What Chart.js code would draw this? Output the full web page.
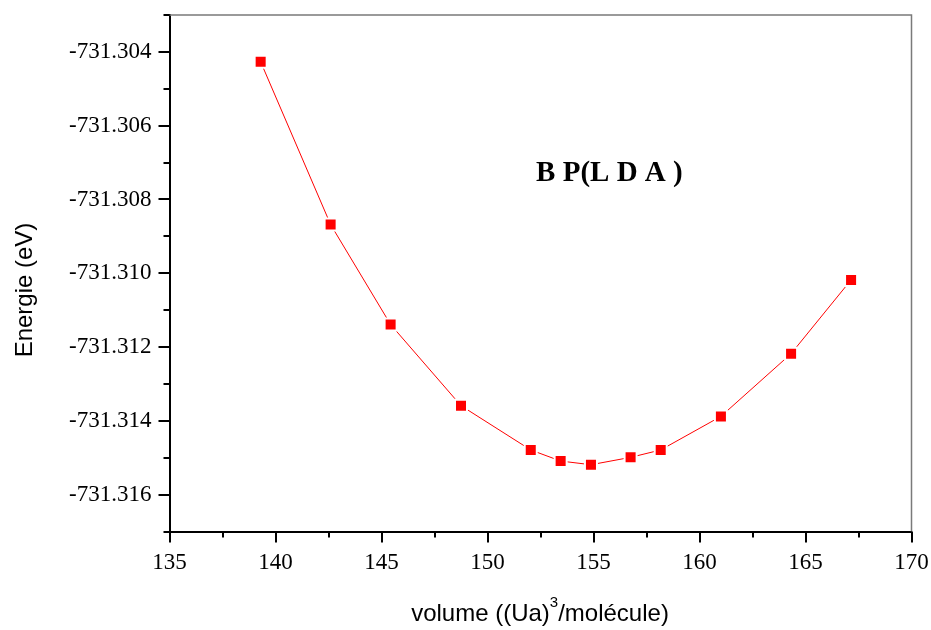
<!DOCTYPE html>
<html>
<head>
<meta charset="utf-8">
<script src="https://cdn.jsdelivr.net/npm/chart.js@4.4.1/dist/chart.umd.min.js"></script>
<style>
  html, body { margin: 0; padding: 0; background: #ffffff; }
  #wrap { width: 931px; height: 630px; }
</style>
</head>
<body>
<div id="wrap"><canvas id="c" width="931" height="630"></canvas></div>
<script>
// Total energy of BP (LDA) against cell volume
const volumes  = [139.30, 142.60, 145.43, 148.75, 152.04, 153.45, 154.88, 156.75, 158.17, 161.01, 164.32, 167.15];
const energies = [-731.30427, -731.30868, -731.31139, -731.31359, -731.31479, -731.31509,
                  -731.31519, -731.31499, -731.31479, -731.31388, -731.31218, -731.31018];

// Axis ticks (labelled values) and the unlabelled ones in between
const xTickLabels = ['135', '140', '145', '150', '155', '160', '165', '170'];
const xMinorTicks = [137.5, 142.5, 147.5, 152.5, 157.5, 162.5, 167.5];
const yTickLabels = ['-731.304', '-731.306', '-731.308', '-731.310', '-731.312', '-731.314', '-731.316'];
const yMinorTicks = [-731.303, -731.305, -731.307, -731.309, -731.311, -731.313, -731.315, -731.317];

const xMajor = xTickLabels.map(Number);
const yMajor = yTickLabels.map(Number);

const seriesLabel = 'B P(L D A )';
const xTitle = ['volume ((Ua)', '3', '/molécule)'];
const yTitle = 'Energie (eV)';

const points = volumes.map((v, i) => ({ x: v, y: energies[i] }));

const isMajor = (list, v) => list.some(m => Math.abs(m - v) < 1e-7);

function tickSet(major, minor) {
  return major.concat(minor).sort((a, b) => a - b).map(v => ({ value: v }));
}

// Frame, tick marks, axis titles and the in-plot label
const decorations = {
  id: 'decorations',
  afterDraw(chart) {
    const { ctx, chartArea: a, scales } = chart;
    const xs = scales.x, ys = scales.y;
    ctx.save();

    // thin grey frame on top and right
    ctx.strokeStyle = '#7a7a7a';
    ctx.lineWidth = 1.5;
    ctx.beginPath();
    ctx.moveTo(a.left, a.top);
    ctx.lineTo(a.right, a.top);
    ctx.lineTo(a.right, a.bottom);
    ctx.stroke();

    // outward tick marks
    ctx.strokeStyle = '#000000';
    ctx.lineWidth = 2;
    ctx.beginPath();
    xs.ticks.forEach(t => {
      const px = Math.round(xs.getPixelForValue(t.value));
      const len = isMajor(xMajor, t.value) ? 11 : 6;
      ctx.moveTo(px, a.bottom);
      ctx.lineTo(px, a.bottom + len);
    });
    ys.ticks.forEach(t => {
      const py = Math.round(ys.getPixelForValue(t.value));
      const len = isMajor(yMajor, t.value) ? 11 : 6;
      ctx.moveTo(a.left, py);
      ctx.lineTo(a.left - len, py);
    });
    ctx.stroke();

    // x axis title with superscript
    ctx.fillStyle = '#000000';
    ctx.textBaseline = 'alphabetic';
    const bigFont = '24px "Liberation Sans", Arial, sans-serif';
    const supFont = '15px "Liberation Sans", Arial, sans-serif';
    ctx.font = bigFont;
    const w0 = ctx.measureText(xTitle[0]).width;
    const w2 = ctx.measureText(xTitle[2]).width;
    ctx.font = supFont;
    const w1 = ctx.measureText(xTitle[1]).width;
    const total = w0 + w1 + w2;
    let tx = 540 - total / 2;
    const base = 621;
    ctx.font = bigFont;
    ctx.textAlign = 'left';
    ctx.fillText(xTitle[0], tx, base);
    tx += w0;
    ctx.font = supFont;
    ctx.fillText(xTitle[1], tx, base - 14);
    tx += w1;
    ctx.font = bigFont;
    ctx.fillText(xTitle[2], tx, base);

    // y axis title
    ctx.save();
    ctx.translate(25, 290);
    ctx.rotate(-Math.PI / 2);
    ctx.textAlign = 'center';
    ctx.textBaseline = 'middle';
    ctx.font = '24px "Liberation Sans", Arial, sans-serif';
    ctx.fillText(yTitle, 0, 0);
    ctx.restore();

    // series label inside the plot
    ctx.font = 'bold 29px "Liberation Serif", "Times New Roman", serif';
    ctx.textAlign = 'center';
    ctx.textBaseline = 'middle';
    ctx.fillText(seriesLabel, xs.getPixelForValue(155.75), ys.getPixelForValue(-731.3073));

    ctx.restore();
  }
};

new Chart(document.getElementById('c'), {
  type: 'scatter',
  data: {
    datasets: [{
      label: seriesLabel,
      data: points,
      showLine: true,
      borderColor: '#ff0000',
      borderWidth: 1,
      pointStyle: 'rect',
      pointRadius: 8.5,
      pointHoverRadius: 8.5,
      pointBackgroundColor: '#ff0000',
      pointBorderColor: '#ffffff',
      pointBorderWidth: 2,
      tension: 0
    }]
  },
  options: {
    responsive: false,
    animation: false,
    devicePixelRatio: 1,
    events: [],
    layout: { padding: { top: 15, right: 19.5, left: 0, bottom: 0 } },
    plugins: {
      legend: { display: false },
      tooltip: { enabled: false },
      title: { display: false }
    },
    scales: {
      x: {
        type: 'linear',
        min: 135,
        max: 170,
        afterBuildTicks: s => { s.ticks = tickSet(xMajor, xMinorTicks); },
        afterFit: s => { s.height = 98.5; s.paddingLeft = 0; s.paddingRight = 0; },
        grid: { display: false, drawTicks: false },
        border: { display: true, color: '#000000', width: 2 },
        ticks: {
          autoSkip: false,
          maxRotation: 0,
          padding: 18,
          color: '#000000',
          font: { family: '"Liberation Serif", "Times New Roman", serif', size: 23 },
          callback: v => (isMajor(xMajor, v) ? xTickLabels[xMajor.findIndex(m => Math.abs(m - v) < 1e-7)] : '')
        }
      },
      y: {
        type: 'linear',
        min: -731.317,
        max: -731.303,
        afterBuildTicks: s => { s.ticks = tickSet(yMajor, yMinorTicks); },
        afterFit: s => { s.width = 169.5; s.paddingTop = 0; s.paddingBottom = 0; },
        grid: { display: false, drawTicks: false },
        border: { display: true, color: '#000000', width: 2 },
        ticks: {
          autoSkip: false,
          padding: 18,
          color: '#000000',
          font: { family: '"Liberation Serif", "Times New Roman", serif', size: 23 },
          callback: v => (isMajor(yMajor, v) ? yTickLabels[yMajor.findIndex(m => Math.abs(m - v) < 1e-7)] : '')
        }
      }
    }
  },
  plugins: [decorations]
});
</script>
</body>
</html>
